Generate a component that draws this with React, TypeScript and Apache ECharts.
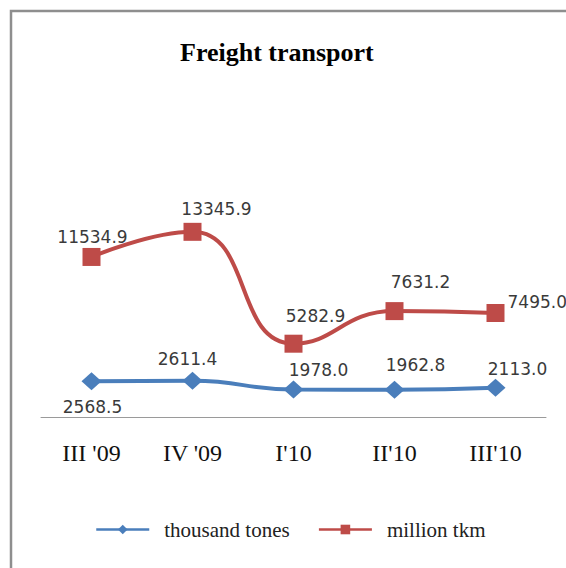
import React, { useEffect, useRef } from "react";
import * as echarts from "echarts";

const categories = ["III '09", "IV '09", "I'10", "II'10", "III'10"];
const thousandTones = [2568.5, 2611.4, 1978.0, 1962.8, 2113.0];
const millionTkm = [11534.9, 13345.9, 5282.9, 7631.2, 7495.0];

const redLabelPos = ["top", "top", "top", "top", "right"];
const redLabelOffset = [[1, 3], [24, 0], [22, -5], [26, -7], [-2, -11]];
const blueLabelPos = ["bottom", "top", "top", "top", "top"];
const blueLabelOffset = [[1, 3], [-5, 1], [25, 3], [21, -2], [22, 4]];

const labelFont = {
  fontFamily: "DejaVu Sans",
  fontSize: 17,
  color: "#3a3a3a",
};

export default function App() {
  const ref = useRef<HTMLDivElement>(null);
  useEffect(() => {
    if (!ref.current) return;
    const chart = echarts.init(ref.current, null, { renderer: "svg" });
    chart.setOption({
      animation: false,
      backgroundColor: "#ffffff",
      title: {
        text: "Freight transport",
        left: 175,
        top: 34,
        textStyle: {
          fontFamily: "Liberation Serif",
          fontWeight: "bold",
          fontSize: 26,
          color: "#000000",
        },
      },
      graphic: [
        {
          type: "rect",
          shape: { x: 11, y: 11, width: 700, height: 700 },
          style: { fill: "none", stroke: "#8e8e8e", lineWidth: 2.5 },
          silent: true,
        },
      ],
      grid: { left: 41, right: 20, top: 195, bottom: 151 },
      xAxis: {
        type: "category",
        data: categories,
        boundaryGap: true,
        axisTick: { show: false },
        axisLine: { lineStyle: { color: "#9a9a9a", width: 1 } },
        axisLabel: {
          margin: 24,
          fontFamily: "Liberation Serif",
          fontSize: 24,
          color: "#111111",
        },
      },
      yAxis: {
        type: "value",
        min: 0,
        max: 16000,
        show: false,
        splitLine: { show: false },
      },
      legend: {
        left: 90,
        top: 514,
        itemWidth: 53,
        itemHeight: 12,
        itemGap: 28,
        textStyle: {
          fontFamily: "Liberation Serif",
          fontSize: 21,
          color: "#222222",
          padding: [0, 0, 0, 10],
        },
        data: [
          { name: "thousand tones", itemStyle: {}, lineStyle: { width: 2.5 } },
          { name: "million tkm", itemStyle: {}, lineStyle: { width: 2.5 } },
        ],
      },
      series: [
        {
          name: "thousand tones",
          type: "line",
          smooth: true,
          symbol: "diamond",
          symbolSize: [20, 18],
          color: "#4A7EBB",
          lineStyle: { width: 4, color: "#4A7EBB" },
          itemStyle: { color: "#4A7EBB" },
          data: thousandTones.map((v, i) => ({
            value: v,
            label: {
              show: true,
              position: blueLabelPos[i],
              offset: blueLabelOffset[i],
              formatter: v.toFixed(1),
              ...labelFont,
            },
          })),
        },
        {
          name: "million tkm",
          type: "line",
          smooth: true,
          symbol: "rect",
          symbolSize: 18,
          color: "#BE4B48",
          lineStyle: { width: 4, color: "#BE4B48" },
          itemStyle: { color: "#BE4B48" },
          data: millionTkm.map((v, i) => ({
            value: v,
            label: {
              show: true,
              position: redLabelPos[i],
              offset: redLabelOffset[i],
              formatter: v.toFixed(1),
              ...labelFont,
            },
          })),
        },
      ],
    });
    return () => chart.dispose();
  }, []);
  return (
    <div
      ref={ref}
      style={{ position: "absolute", left: 0, top: 0, width: 566, height: 568 }}
    />
  );
}
